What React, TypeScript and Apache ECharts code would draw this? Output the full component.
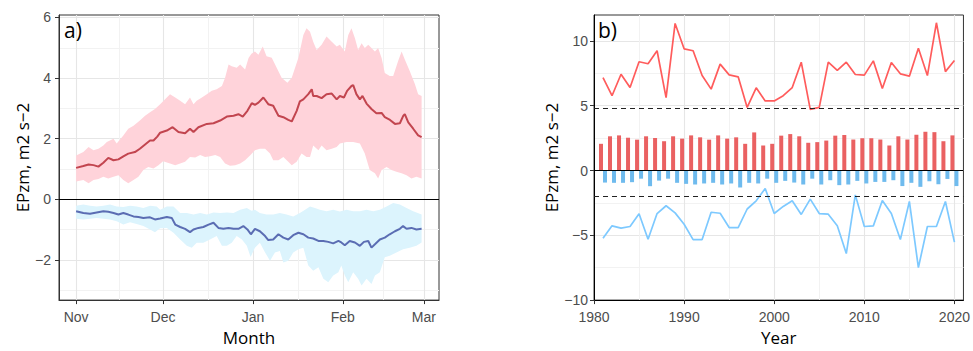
import React, { useEffect, useRef } from "react";
import * as echarts from "echarts";

// ---------- Panel a) ----------
const MONTH_TICKS = [0, 30, 61, 92, 120];
const MONTH_LABELS = ["Nov", "Dec", "Jan", "Feb", "Mar"];
const MONTH_MINOR = [15, 45.5, 76.5, 106];
const A_Y_MAJOR = [-2, 0, 2, 4, 6];
const A_Y_MINOR = [-3, -1, 1, 3, 5];

const redMean = [
  [0, 1.04], [2.5, 1.1], [4.3, 1.15], [6, 1.13], [7.7, 1.08], [9.4, 1.21], [11.1, 1.37], [12.9, 1.29],
  [14.6, 1.32], [16.3, 1.42], [18, 1.51], [20.3, 1.56], [22, 1.67], [23.8, 1.81], [25.5, 1.94], [26.7, 1.94],
  [28, 2.07], [29, 2.2], [31.3, 2.27], [33.3, 2.38], [35.3, 2.22], [37.6, 2.18], [39.3, 2.33], [40.5, 2.22],
  [42.2, 2.38], [45.1, 2.49], [47.4, 2.51], [49.7, 2.6], [52, 2.73], [54.3, 2.76], [56, 2.81], [57.5, 2.73],
  [59.1, 2.92], [60.6, 3.17], [61.7, 3.12], [62.9, 3.19], [64.6, 3.36], [66.3, 3.14], [68, 3.09], [69.8, 2.76],
  [71.5, 2.71], [73.2, 2.62], [74.4, 2.57], [76.1, 2.92], [77.2, 3.23], [78.4, 3.3], [80.1, 3.47], [81.3, 3.63],
  [81.8, 3.41], [83, 3.41], [84.7, 3.34], [86.4, 3.47], [88.2, 3.49], [89.9, 3.3], [91, 3.41], [92.4, 3.36],
  [93.5, 3.58], [95, 3.74], [95.6, 3.77], [96.7, 3.47], [97.9, 3.3], [98.8, 3.41], [100.2, 3.16], [101.9, 2.98],
  [103.6, 2.84], [105.4, 2.85], [106.5, 2.71], [108.3, 2.62], [110, 2.49], [111.7, 2.51], [112.9, 2.76],
  [113.4, 2.81], [114.6, 2.54], [116.3, 2.33], [118, 2.11], [119.2, 2.05],
];

const redUpper = [
  [0, 1.45], [2.5, 1.56], [4.3, 1.73], [6, 1.62], [7.7, 1.67], [9.4, 1.78], [10.6, 1.89], [12.9, 2.0],
  [14, 1.84], [16.3, 2.11], [18, 2.33], [19.8, 2.43], [22, 2.6], [23.8, 2.76], [25.5, 2.87], [27.2, 2.98],
  [29, 3.14], [30.7, 3.3], [32.4, 3.47], [34.2, 3.36], [35.9, 3.25], [37.6, 3.14], [39.3, 3.36], [40.5, 3.14],
  [41.6, 3.25], [43.4, 3.36], [45.1, 3.47], [46.8, 3.58], [48.5, 3.63], [50.3, 3.74], [51.4, 4.01], [52.6, 4.45],
  [53.7, 4.39], [55.4, 4.34], [56.6, 4.45], [58.3, 4.28], [59.5, 4.66], [60.5, 4.8], [61.7, 4.88], [62.9, 4.77],
  [64.4, 5.04], [65.7, 4.72], [67.5, 4.67], [69.2, 4.34], [70.9, 4.01], [72.9, 3.85], [74.4, 4.01], [76.7, 4.67],
  [78.4, 5.42], [79.5, 5.64], [80.7, 5.53], [81.8, 5.2], [83, 4.93], [84.7, 5.1], [86.4, 5.37], [88.2, 5.2],
  [89.9, 5.04], [91, 5.1], [92.7, 4.88], [93.9, 5.42], [95, 5.64], [96.2, 5.31], [97.3, 4.93], [98.5, 5.15],
  [99.6, 4.99], [100.8, 5.1], [101.9, 4.99], [103.1, 4.88], [104.2, 4.99], [105.4, 4.66], [106.5, 4.17],
  [108.2, 4.07], [109.4, 4.07], [111.1, 4.56], [112.3, 4.88], [113.4, 4.61], [115.1, 4.23], [116.9, 3.8],
  [118, 3.47], [119.2, 3.41],
];

const redLower = [
  [0, 0.59], [2.5, 0.64], [4.3, 0.53], [6, 0.64], [7.7, 0.67], [9.4, 0.75], [11.1, 0.69], [12.9, 0.75],
  [14.6, 0.8], [16.3, 0.64], [18, 0.53], [19.8, 0.64], [21.5, 0.75], [23.2, 0.97], [24.9, 1.07], [26.7, 1.02],
  [28.4, 1.13], [30, 1.26], [32.4, 1.18], [34.2, 1.13], [35.9, 1.18], [37.6, 1.24], [39.3, 1.4], [41.1, 1.38],
  [42.8, 1.46], [44.5, 1.4], [46.2, 1.42], [48, 1.46], [49.7, 1.4], [51.4, 1.18], [53.1, 1.11], [54.9, 1.13],
  [56.6, 1.18], [58.3, 1.29], [60, 1.45], [61.7, 1.62], [63.4, 1.67], [65.2, 1.67], [66.9, 1.51], [68, 1.29],
  [69.8, 1.29], [71.5, 1.4], [73.2, 1.24], [74.4, 1.13], [76.1, 1.24], [77.8, 1.51], [79.5, 1.4], [80.7, 1.4],
  [81.8, 1.78], [83.6, 1.62], [84.7, 1.78], [86.4, 1.62], [88.2, 1.67], [89.9, 1.73], [91, 1.84], [93.3, 1.89],
  [95.6, 1.89], [97.9, 1.84], [99.6, 1.51], [101.3, 0.97], [103.1, 0.86], [104.2, 0.69], [105.4, 0.97],
  [107.1, 1.07], [108.8, 0.97], [110.5, 0.91], [112.3, 0.86], [114, 0.8], [115.7, 0.69], [117.4, 0.75],
  [119.2, 0.69],
];

const blueMean = [
  [0, -0.39], [2.5, -0.45], [4.8, -0.47], [7.1, -0.43], [9.4, -0.39], [11.1, -0.41], [12.9, -0.45], [14.6, -0.5],
  [16.3, -0.45], [18, -0.5], [19.8, -0.56], [21.5, -0.58], [23.2, -0.61], [25.5, -0.59], [27.2, -0.66],
  [29, -0.63], [31.3, -0.58], [33, -0.61], [34.2, -0.83], [35.9, -0.91], [37.6, -0.97], [39.3, -1.08],
  [40.5, -0.99], [42.2, -0.94], [43.9, -0.91], [45.7, -0.83], [47.4, -0.77], [49.1, -0.94], [50.8, -0.97],
  [52.6, -0.94], [54.3, -0.97], [56, -0.97], [57.7, -0.88], [59.1, -0.99], [60.3, -1.15], [61.7, -0.97],
  [63.4, -1.05], [65.2, -1.21], [66.3, -1.34], [68, -1.32], [69.8, -1.15], [71.5, -1.26], [73.2, -1.32],
  [74.9, -1.18], [76.7, -1.1], [78.4, -1.15], [80.1, -1.26], [81.8, -1.29], [83.6, -1.37], [85.3, -1.37],
  [87, -1.4], [88.7, -1.45], [90.5, -1.37], [91.5, -1.42], [92.7, -1.51], [94.4, -1.37], [96.2, -1.42],
  [97.9, -1.53], [99.3, -1.4], [100.8, -1.37], [101.9, -1.59], [103.1, -1.48], [104.8, -1.32], [106.5, -1.26],
  [108.2, -1.15], [110, -1.05], [111.7, -0.97], [112.8, -0.88], [114, -0.97], [115.7, -0.94], [117.4, -0.99],
  [119.2, -0.97],
];

const blueUpper = [
  [0, -0.21], [2.5, -0.17], [4.8, -0.21], [7.1, -0.23], [9.4, -0.21], [11.7, -0.17], [14, -0.23], [16.3, -0.25],
  [18.6, -0.21], [20.9, -0.23], [23.2, -0.28], [25.5, -0.21], [27.8, -0.23], [29, -0.34], [31.3, -0.23],
  [33.6, -0.23], [35.9, -0.45], [38.2, -0.45], [40.5, -0.5], [42.8, -0.45], [45.1, -0.5], [47.4, -0.43],
  [49.7, -0.45], [52, -0.43], [54.3, -0.45], [56.6, -0.34], [58.9, -0.28], [60.5, -0.37], [61.7, -0.34],
  [63.4, -0.45], [65.7, -0.5], [68, -0.5], [70.3, -0.45], [72.6, -0.5], [74.9, -0.56], [77.2, -0.45], [79, -0.34],
  [80.7, -0.23], [82.4, -0.28], [84.1, -0.34], [86.4, -0.39], [88.7, -0.34], [91, -0.4], [93.3, -0.34],
  [95.6, -0.39], [97.9, -0.39], [100.2, -0.34], [102.5, -0.39], [104.8, -0.34], [107.1, -0.23], [109.4, -0.12],
  [111.7, -0.17], [114, -0.28], [116.3, -0.39], [119.2, -0.5],
];

const blueLower = [
  [0, -0.64], [2.5, -0.66], [4.8, -0.64], [7.1, -0.61], [9.4, -0.64], [11.7, -0.66], [14, -0.72], [16.3, -0.83],
  [18.6, -0.75], [20.9, -0.81], [23.2, -0.88], [25.5, -0.99], [27.2, -1.08], [29, -0.95], [31.3, -0.94],
  [33.6, -1.1], [35.9, -1.32], [38.2, -1.53], [39.9, -1.59], [41.6, -1.43], [43.9, -1.43], [46.2, -1.32],
  [48.5, -1.21], [50.3, -1.53], [52, -1.53], [53.7, -1.43], [55.4, -1.21], [57.2, -1.32], [58.9, -1.53],
  [60.2, -1.9], [61.7, -1.59], [63.4, -1.43], [65.2, -1.75], [66.9, -2.02], [68.6, -1.75], [70.3, -1.7],
  [71.5, -2.08], [73.2, -2.02], [74.9, -1.75], [76.7, -1.64], [78.4, -1.59], [80.1, -2.18], [81.8, -2.35],
  [83.6, -2.24], [85.3, -2.62], [87, -2.73], [88.7, -2.51], [90.5, -2.4], [91.5, -2.18], [92.7, -2.51],
  [93.9, -2.73], [95.6, -2.4], [97.3, -2.62], [98.5, -2.84], [100.2, -2.62], [101.9, -2.79], [103.1, -2.51],
  [104.8, -2.4], [106.5, -1.91], [108.2, -1.86], [110.5, -1.75], [112.8, -1.64], [115.1, -1.59], [117.4, -1.53],
  [119.2, -1.42],
];

// ---------- Panel b) ----------
const YEAR_MAJOR = [1980, 1990, 2000, 2010, 2020];
const YEAR_MINOR = [1985, 1995, 2005, 2015];
const B_Y_MAJOR = [-10, -5, 0, 5, 10];
const B_Y_MINOR = [-7.5, -2.5, 2.5, 7.5];
const B_THRESH_UP = 4.8;
const B_THRESH_DOWN = -2;

const years = [
  1981, 1982, 1983, 1984, 1985, 1986, 1987, 1988, 1989, 1990,
  1991, 1992, 1993, 1994, 1995, 1996, 1997, 1998, 1999, 2000,
  2001, 2002, 2003, 2004, 2005, 2006, 2007, 2008, 2009, 2010,
  2011, 2012, 2013, 2014, 2015, 2016, 2017, 2018, 2019, 2020,
];
const posLine = [
  7.16, 5.77, 7.43, 6.4, 8.39, 8.24, 9.24, 5.62, 11.35, 9.39,
  9.24, 7.33, 6.28, 8.21, 7.38, 7.23, 4.87, 6.38, 5.37, 5.37,
  5.77, 6.4, 8.36, 4.72, 4.87, 8.36, 7.73, 8.36, 7.41, 7.36,
  8.46, 6.33, 8.33, 7.46, 7.28, 9.44, 7.33, 11.4, 7.63, 8.49,
];
const negLine = [
  -5.23, -4.27, -4.45, -4.32, -3.34, -5.3, -3.32, -2.72, -3.27, -4.15,
  -5.33, -5.33, -3.22, -3.3, -4.4, -4.4, -2.97, -2.34, -1.39, -3.32,
  -2.77, -2.34, -3.39, -2.21, -3.32, -3.37, -4.27, -6.41, -1.88, -4.32,
  -4.27, -2.31, -3.32, -5.33, -2.39, -7.49, -4.32, -4.32, -2.39, -5.53,
];
const posBars = [
  2.06, 2.64, 2.71, 2.53, 2.38, 2.64, 2.51, 2.26, 2.64, 2.46,
  2.71, 2.56, 2.38, 2.71, 2.46, 2.56, 2.06, 2.94, 1.93, 2.06,
  2.69, 2.81, 2.64, 2.14, 2.19, 2.31, 2.69, 2.74, 2.39, 2.49,
  2.49, 2.39, 1.93, 2.64, 2.39, 2.76, 2.99, 2.96, 2.26, 2.71,
];
const negBars = [
  -0.93, -0.95, -0.95, -0.9, -0.63, -1.21, -0.78, -0.63, -0.95, -1.03,
  -1.08, -1.0, -0.95, -1.08, -1.0, -1.31, -0.95, -1.0, -0.63, -0.95,
  -0.8, -0.93, -1.08, -0.63, -1.08, -0.75, -1.13, -1.08, -0.8, -1.0,
  -0.88, -0.88, -0.75, -1.2, -0.95, -1.26, -0.83, -1.06, -0.65, -1.2,
];

const TICK_FONT = "Liberation Sans, Arial, sans-serif";
const TITLE_FONT = "Open Sans, Liberation Sans, sans-serif";
const LABEL_COLOR = "#4D4D4D";
const MAJOR_GRID = "#E6E6E6";
const MINOR_GRID = "#F2F2F2";
const minus = (v: number) => String(v).replace("-", "\u2212");

function majorAxis(opts: any) {
  return {
    type: "value",
    axisLine: { show: true, onZero: false, lineStyle: { color: opts.lineColor || "#333", width: 1 } },
    axisTick: { show: true, length: 4, lineStyle: { color: "#333" }, customValues: opts.ticks },
    axisLabel: {
      show: true,
      customValues: opts.ticks,
      color: LABEL_COLOR,
      fontSize: 14,
      fontFamily: TICK_FONT,
      margin: opts.margin,
      formatter: opts.formatter || ((v: number) => minus(v)),
    },
    splitLine: { show: true, lineStyle: { color: MAJOR_GRID, width: 1.1 } },
    nameLocation: "middle",
    nameTextStyle: { color: "#000", fontSize: 17, fontFamily: TITLE_FONT },
    ...opts.extra,
  };
}

function minorAxis(opts: any) {
  return {
    type: "value",
    axisLine: { show: false },
    axisTick: { show: false, customValues: opts.ticks },
    axisLabel: { show: false, customValues: opts.ticks },
    splitLine: { show: true, lineStyle: { color: MINOR_GRID, width: 1 } },
    ...opts.extra,
  };
}

function band(upper: number[][], lower: number[][], color: string) {
  return {
    type: "custom",
    xAxisIndex: 0,
    yAxisIndex: 0,
    silent: true,
    clip: true,
    z: 1,
    data: [upper[0]],
    renderItem: (_p: any, api: any) => {
      const pts = upper
        .map((p) => api.coord(p))
        .concat(lower.slice().reverse().map((p) => api.coord(p)));
      return { type: "polygon", shape: { points: pts }, style: { fill: color } };
    },
  };
}

export default function App() {
  const ref = useRef<HTMLDivElement>(null);
  useEffect(() => {
    if (!ref.current) return;
    const chart = echarts.init(ref.current, null, { renderer: "svg" });
    const aMin = -5.9, aMax = 125.2, aYMin = -3.32, aYMax = 6.08;
    const option: any = {
      animation: false,
      backgroundColor: "#fff",
      title: [
        { text: "a)", left: 64, top: 19, padding: 0, textStyle: { fontSize: 21, fontWeight: "normal", color: "#000", fontFamily: TITLE_FONT } },
        { text: "b)", left: 598, top: 19, padding: 0, textStyle: { fontSize: 21, fontWeight: "normal", color: "#000", fontFamily: TITLE_FONT } },
      ],
      grid: [
        { left: 59, right: 534, top: 15, bottom: 48, show: true, borderColor: "#333", borderWidth: 1, backgroundColor: "transparent" },
        { left: 594, right: 5, top: 15, bottom: 45, show: true, borderColor: "#333", borderWidth: 1, backgroundColor: "transparent" },
      ],
      xAxis: [
        majorAxis({
          ticks: MONTH_TICKS,
          margin: 10,
          formatter: (v: number) => MONTH_LABELS[MONTH_TICKS.indexOf(v)] ?? "",
          extra: { gridIndex: 0, min: aMin, max: aMax, name: "Month", nameGap: 25 },
        }),
        minorAxis({ ticks: MONTH_MINOR, extra: { gridIndex: 0, min: aMin, max: aMax } }),
        majorAxis({
          ticks: YEAR_MAJOR,
          margin: 10,
          lineColor: "#000",
          formatter: (v: number) => String(v),
          extra: { gridIndex: 1, min: 1980, max: 2021, name: "Year", nameGap: 24 },
        }),
        minorAxis({ ticks: YEAR_MINOR, extra: { gridIndex: 1, min: 1980, max: 2021 } }),
      ],
      yAxis: [
        majorAxis({
          ticks: A_Y_MAJOR,
          margin: 8,
          extra: { gridIndex: 0, min: aYMin, max: aYMax, name: "EPzm, m2 s\u22122", nameGap: 28 },
        }),
        minorAxis({ ticks: A_Y_MINOR, extra: { gridIndex: 0, min: aYMin, max: aYMax } }),
        majorAxis({
          ticks: B_Y_MAJOR,
          margin: 6,
          lineColor: "#000",
          extra: { gridIndex: 1, min: -10, max: 12, name: "EPzm, m2 s\u22122", nameGap: 33 },
        }),
        minorAxis({ ticks: B_Y_MINOR, extra: { gridIndex: 1, min: -10, max: 12 } }),
      ],
      series: [
        band(redUpper, redLower, "#FFD3DA"),
        band(blueUpper, blueLower, "#DCF4FD"),
        {
          type: "line", xAxisIndex: 0, yAxisIndex: 0, data: redMean, showSymbol: false, z: 3,
          lineStyle: { color: "#C2454F", width: 2 }, silent: true,
          markLine: {
            silent: true, symbol: "none", label: { show: false },
            lineStyle: { color: "#000", width: 1.2, type: "solid" },
            data: [{ yAxis: 0 }],
          },
        },
        {
          type: "line", xAxisIndex: 0, yAxisIndex: 0, data: blueMean, showSymbol: false, z: 3,
          lineStyle: { color: "#5B6DB3", width: 2 }, silent: true,
        },
        {
          type: "bar", xAxisIndex: 2, yAxisIndex: 2, barWidth: 4, barGap: "0%",
          data: years.map((y, i) => [y, posBars[i]]),
          itemStyle: { color: "#EA6162" }, silent: true,
        },
        {
          type: "bar", xAxisIndex: 2, yAxisIndex: 2, barWidth: 4, barGap: "0%",
          data: years.map((y, i) => [y, negBars[i]]),
          itemStyle: { color: "#6FBBEE" }, silent: true,
        },
        {
          type: "line", xAxisIndex: 2, yAxisIndex: 2, data: years.map((y, i) => [y, posLine[i]]),
          showSymbol: false, lineStyle: { color: "#FF5C5C", width: 1.7 }, silent: true, z: 4,
          markLine: {
            silent: true, symbol: "none", label: { show: false },
            data: [
              { yAxis: 0, lineStyle: { color: "#000", width: 1.2, type: "solid" } },
              { yAxis: B_THRESH_UP, lineStyle: { color: "#222", width: 1.2, type: [5, 4] } },
              { yAxis: B_THRESH_DOWN, lineStyle: { color: "#222", width: 1.2, type: [5, 4] } },
            ],
          },
        },
        {
          type: "line", xAxisIndex: 2, yAxisIndex: 2, data: years.map((y, i) => [y, negLine[i]]),
          showSymbol: false, lineStyle: { color: "#7DC9FF", width: 1.7 }, silent: true, z: 4,
        },
      ],
    };
    chart.setOption(option);
    return () => chart.dispose();
  }, []);
  return (
    <div
      ref={ref}
      style={{ position: "fixed", left: 0, top: 0, width: 973, height: 351, background: "#fff" }}
    />
  );
}
